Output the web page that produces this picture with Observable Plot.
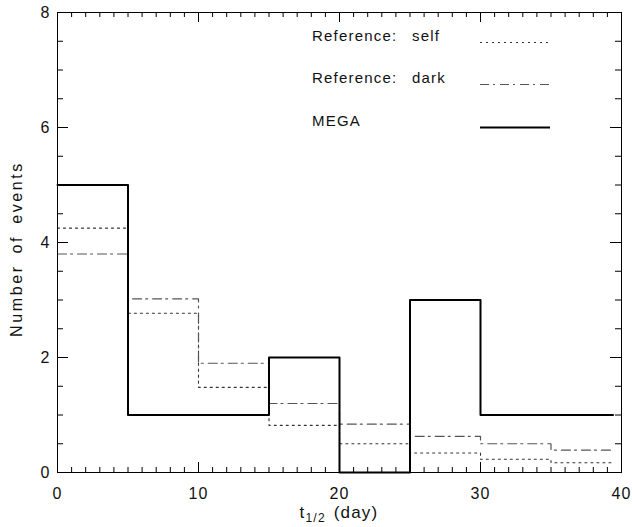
<!DOCTYPE html>
<html>
<head>
<meta charset="utf-8">
<script src="https://cdn.jsdelivr.net/npm/d3@7"></script>
<script src="https://cdn.jsdelivr.net/npm/@observablehq/plot@0.6"></script>
<style>
  html, body { margin: 0; padding: 0; background: #fff; }
  #chart svg { display: block; }
</style>
</head>
<body>
<div id="chart"></div>
<script>
// ---- data ----
const binStarts = [0, 5, 10, 15, 20, 25, 30, 35];
const lastEdge = 39.4;
const selfValues = [4.25, 2.77, 1.48, 0.82, 0.50, 0.34, 0.23, 0.17];
const darkValues = [3.80, 3.02, 1.90, 1.20, 0.84, 0.63, 0.50, 0.39];
const megaValues = [5, 1, 1, 2, 0, 3, 1, 1];
const xMajorTicks = [0, 10, 20, 30, 40];
const xMinorTicks = d3.range(0, 41, 1).filter(v => v % 10 !== 0);
const yMajorTicks = [0, 2, 4, 6, 8];
const yMinorTicks = d3.range(0, 8.01, 0.5).filter(v => v % 2 !== 0);
const seriesNames = ["Reference:  self", "Reference:  dark", "MEGA"];

// ---- layout ----
const W = 632, H = 527;
const mL = 57, mR = 11, mT = 12, mB = 55;
const fw = W - mL - mR, fh = H - mT - mB;

function steps(values) {
  const pts = binStarts.map((x, i) => ({x, y: values[i]}));
  pts.push({x: lastEdge, y: values[values.length - 1]});
  return pts;
}

const styles = {
  self: {stroke: "#333", strokeWidth: 1.1, strokeDasharray: "2,4"},
  dark: {stroke: "#555", strokeWidth: 1.2, strokeDasharray: "9,4,2,5"},
  mega: {stroke: "#000", strokeWidth: 2, strokeDasharray: null}
};

const font = "Liberation Sans, Arial, sans-serif";

const plot = Plot.plot({
  width: W, height: H,
  marginLeft: mL, marginRight: mR, marginTop: mT, marginBottom: mB,
  style: {fontFamily: font, background: "#fff", color: "#111"},
  x: {domain: [0, 40]},
  y: {domain: [0, 8]},
  marks: [
    Plot.line(steps(selfValues), {x: "x", y: "y", curve: "step-after", ...styles.self}),
    Plot.line(steps(darkValues), {x: "x", y: "y", curve: "step-after", ...styles.dark}),
    Plot.line(steps(megaValues), {x: "x", y: "y", curve: "step-after", ...styles.mega}),
    // ticks (inward, IDL style)
    Plot.ruleX(xMajorTicks, {x: d => d, insetTop: fh - 10, stroke: "#000"}),
    Plot.ruleX(xMinorTicks, {x: d => d, insetTop: fh - 5, stroke: "#000"}),
    Plot.ruleX(xMajorTicks, {x: d => d, insetBottom: fh - 10, stroke: "#000"}),
    Plot.ruleX(xMinorTicks, {x: d => d, insetBottom: fh - 5, stroke: "#000"}),
    Plot.ruleY(yMajorTicks, {y: d => d, insetRight: fw - 11, stroke: "#000"}),
    Plot.ruleY(yMinorTicks, {y: d => d, insetRight: fw - 6, stroke: "#000"}),
    Plot.ruleY(yMajorTicks, {y: d => d, insetLeft: fw - 11, stroke: "#000"}),
    Plot.ruleY(yMinorTicks, {y: d => d, insetLeft: fw - 6, stroke: "#000"}),
    Plot.axisX({ticks: xMajorTicks, tickSize: 0, tickPadding: 15, fontSize: 16, label: null}),
    Plot.axisY({ticks: yMajorTicks, tickSize: 0, tickPadding: 7, fontSize: 16, label: null}),
    Plot.frame({stroke: "#000", strokeWidth: 1})
  ]
});

document.getElementById("chart").appendChild(plot);

// ---- axis titles and legend ----
const svg = d3.select(plot);
svg.selectAll("g[aria-label='x-axis tick label'] text, g[aria-label='y-axis tick label'] text")
  .style("letter-spacing", "1px");

const xt = svg.append("text")
  .attr("x", mL + fw / 2).attr("y", 518)
  .attr("text-anchor", "middle")
  .style("font-family", font).style("font-size", "17px").style("letter-spacing", "1.2px")
  .style("word-spacing", "2px")
  .attr("fill", "#111");
xt.append("tspan").text("t");
xt.append("tspan").attr("dy", 4).style("font-size", "12px").text("1/2");
xt.append("tspan").attr("dy", -4).text(" (day)");

svg.append("text")
  .attr("transform", `translate(22,${mT + fh / 2 + 7}) rotate(-90)`)
  .attr("text-anchor", "middle")
  .style("font-family", font).style("font-size", "16px")
  .style("letter-spacing", "2.6px").style("word-spacing", "4px")
  .attr("fill", "#111")
  .text("Number of events");

const legendKeys = ["self", "dark", "mega"];
const legendY = [42, 84, 127];
legendKeys.forEach((k, i) => {
  const name = seriesNames[i];
  const parts = name.split(/\s{2,}/);
  const g = svg.append("g").attr("text-anchor", "start");
  g.append("text")
    .attr("x", 312).attr("y", legendY[i] - 1)
    .attr("text-anchor", "start")
    .style("font-family", font).style("font-size", "15px").style("letter-spacing", "1.2px")
    .attr("fill", "#111").text(parts[0]);
  if (parts[1]) {
    g.append("text")
      .attr("x", 412).attr("y", legendY[i] - 1)
      .attr("text-anchor", "start")
      .style("font-family", font).style("font-size", "15px").style("letter-spacing", "1.2px")
      .attr("fill", "#111").text(parts[1]);
  }
  const s = styles[k];
  g.append("line")
    .attr("x1", 480).attr("x2", 550).attr("y1", legendY[i] + 0.5).attr("y2", legendY[i] + 0.5)
    .attr("stroke", s.stroke).attr("stroke-width", s.strokeWidth)
    .attr("stroke-dasharray", s.strokeDasharray);
});
</script>
</body>
</html>
